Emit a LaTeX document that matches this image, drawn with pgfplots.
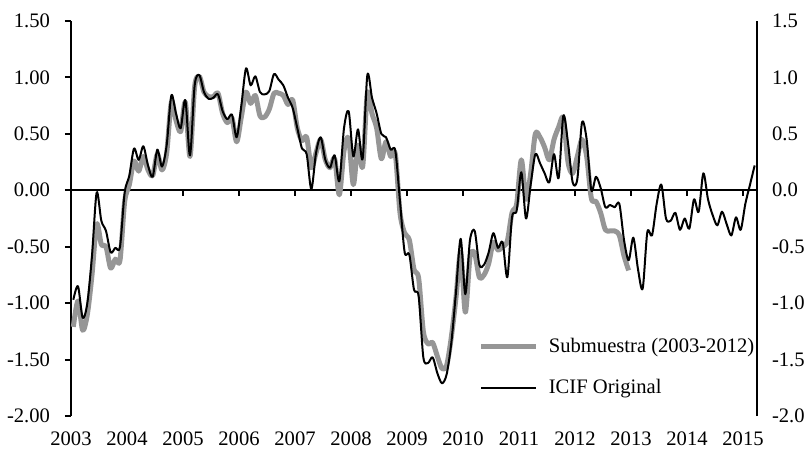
\documentclass[border=0pt]{standalone}
\usepackage{fontspec}
\setmainfont{Liberation Serif}
\usepackage{pgfplots}
\pgfplotsset{compat=1.18}
\definecolor{grayline}{RGB}{150,150,150}

\pgfplotstableread{
m v
0 -0.97
1 -0.85
2 -1.13
3 -1.00
4 -0.58
5 -0.02
6 -0.27
7 -0.36
8 -0.55
9 -0.51
10 -0.50
11 -0.02
12 0.13
13 0.37
14 0.27
15 0.39
16 0.22
17 0.12
18 0.36
19 0.21
20 0.40
21 0.84
22 0.68
23 0.55
24 0.80
25 0.31
26 0.93
27 1.02
28 0.87
29 0.81
30 0.82
31 0.85
32 0.70
33 0.63
34 0.67
35 0.47
36 0.75
37 1.08
38 0.93
39 1.01
40 0.87
41 0.85
42 0.88
43 1.03
44 0.98
45 0.93
46 0.82
47 0.73
48 0.55
49 0.37
50 0.32
51 0.01
52 0.33
53 0.47
54 0.27
55 0.20
56 0.31
57 0.08
58 0.55
59 0.70
60 0.30
61 0.54
62 0.28
63 1.02
64 0.82
65 0.68
66 0.50
67 0.47
68 0.36
69 0.35
70 -0.10
71 -0.55
72 -0.57
73 -0.88
74 -0.94
75 -1.48
76 -1.53
77 -1.48
78 -1.62
79 -1.71
80 -1.63
81 -1.35
82 -0.90
83 -0.43
84 -0.92
85 -0.44
86 -0.36
87 -0.66
88 -0.66
89 -0.55
90 -0.38
91 -0.51
92 -0.46
93 -0.77
94 -0.24
95 -0.18
96 0.16
97 -0.25
98 0.05
99 0.32
100 0.24
101 0.15
102 0.07
103 0.32
104 0.11
105 0.66
106 0.42
107 0.07
108 0.10
109 0.60
110 0.45
111 0.00
112 0.12
113 0.02
114 -0.15
115 -0.13
116 -0.15
117 -0.12
118 -0.44
119 -0.62
120 -0.42
121 -0.70
122 -0.87
123 -0.37
124 -0.40
125 -0.12
126 0.05
127 -0.25
128 -0.27
129 -0.20
130 -0.35
131 -0.25
132 -0.34
133 -0.08
134 -0.19
135 0.15
136 -0.08
137 -0.22
138 -0.31
139 -0.19
140 -0.30
141 -0.40
142 -0.24
143 -0.35
144 -0.12
145 0.05
146 0.22
}\icif

\pgfplotstableread{
m v
0 -1.21
1 -0.98
2 -1.24
3 -1.10
4 -0.75
5 -0.30
6 -0.48
7 -0.50
8 -0.69
9 -0.61
10 -0.62
11 -0.10
12 0.05
13 0.26
14 0.17
15 0.30
16 0.18
17 0.13
18 0.32
19 0.18
20 0.33
21 0.78
22 0.62
23 0.52
24 0.78
25 0.30
26 0.92
27 1.01
28 0.87
29 0.83
30 0.83
31 0.86
32 0.68
33 0.60
34 0.64
35 0.43
36 0.65
37 0.87
38 0.77
39 0.84
40 0.66
41 0.65
42 0.72
43 0.86
44 0.86
45 0.84
46 0.76
47 0.80
48 0.55
49 0.44
50 0.47
51 0.20
52 0.33
53 0.45
54 0.27
55 0.20
56 0.28
57 -0.04
58 0.35
59 0.46
60 0.05
61 0.40
62 0.21
63 0.86
64 0.68
65 0.55
66 0.28
67 0.43
68 0.30
69 0.32
70 -0.20
71 -0.38
72 -0.44
73 -0.70
74 -0.78
75 -1.25
76 -1.36
77 -1.35
78 -1.47
79 -1.58
80 -1.55
81 -1.30
82 -0.95
83 -0.55
84 -1.08
85 -0.59
86 -0.56
87 -0.77
88 -0.75
89 -0.65
90 -0.46
91 -0.53
92 -0.50
93 -0.45
94 -0.20
95 -0.12
96 0.27
97 -0.08
98 0.15
99 0.50
100 0.47
101 0.38
102 0.27
103 0.45
104 0.56
105 0.64
106 0.25
107 0.15
108 0.30
109 0.45
110 0.30
111 -0.07
112 -0.10
113 -0.20
114 -0.35
115 -0.36
116 -0.36
117 -0.40
118 -0.58
119 -0.71
}\subm

\begin{document}
\begin{tikzpicture}
\path[use as bounding box] (-35.5pt,-18pt) rectangle (368.5pt,208pt);
\pgfplotsset{
  common/.style={
    scale only axis, width=343pt, height=197.5pt,
    xmin=-0.5, xmax=146.5, ymin=-2, ymax=1.5,
    xtick={-0.5,11.5,23.5,35.5,47.5,59.5,71.5,83.5,95.5,107.5,119.5,131.5,143.5},
    ytick={-2,-1.5,-1,-0.5,0,0.5,1,1.5},
    tick label style={font=\fontsize{10.3}{12}\selectfont},
    /pgf/number format/assume math mode=true,
    axis line style={line width=1pt, black},
    tick style={line width=1pt, black},
    major tick length=3pt,
  }
}
\begin{axis}[common,
  axis y line*=left, axis x line*=bottom,
  x axis line style={draw=none},
  xtick style={draw=none},
  xticklabels={2003,2004,2005,2006,2007,2008,2009,2010,2011,2012,2013,2014,2015},
  x tick label style={yshift=-4.5pt},
  ytick align=outside,
  y tick label style={/pgf/number format/.cd, fixed, fixed zerofill, precision=2, /tikz/.cd, xshift=-4pt},
]
\end{axis}
\begin{axis}[common,
  axis x line*=middle, axis y line*=right,
  xticklabels={},
  xtick style={draw=none},
  ytick style={draw=none},
  y tick label style={/pgf/number format/.cd, fixed, fixed zerofill, precision=1, /tikz/.cd, xshift=4pt},
  legend style={draw=none, fill=none, at={(0.594,0.1228)}, anchor=west,
    font=\fontsize{10.3}{12}\selectfont, inner sep=0pt, row sep=8pt,
    /tikz/every odd column/.append style={column sep=3pt}},
  legend cell align=left,
  legend image code/.code={\draw[#1] (0pt,0pt) -- (27.5pt,0pt);},
]
\pgfplotsinvokeforeach{11.5,23.5,35.5,47.5,59.5,71.5,83.5,95.5,107.5,119.5,131.5,143.5}{
  \draw[line width=1pt, black] (axis cs:#1,0) -- ([yshift=-3pt]axis cs:#1,0);
}
\addplot[grayline, line width=2.5pt, smooth, line join=round] table[x=m, y=v] {\subm};
\addlegendentry{Submuestra (2003-2012)}
\addplot[black, line width=1pt, smooth, line join=round] table[x=m, y=v] {\icif};
\addlegendentry{ICIF Original}
\end{axis}
\end{tikzpicture}
\end{document}
